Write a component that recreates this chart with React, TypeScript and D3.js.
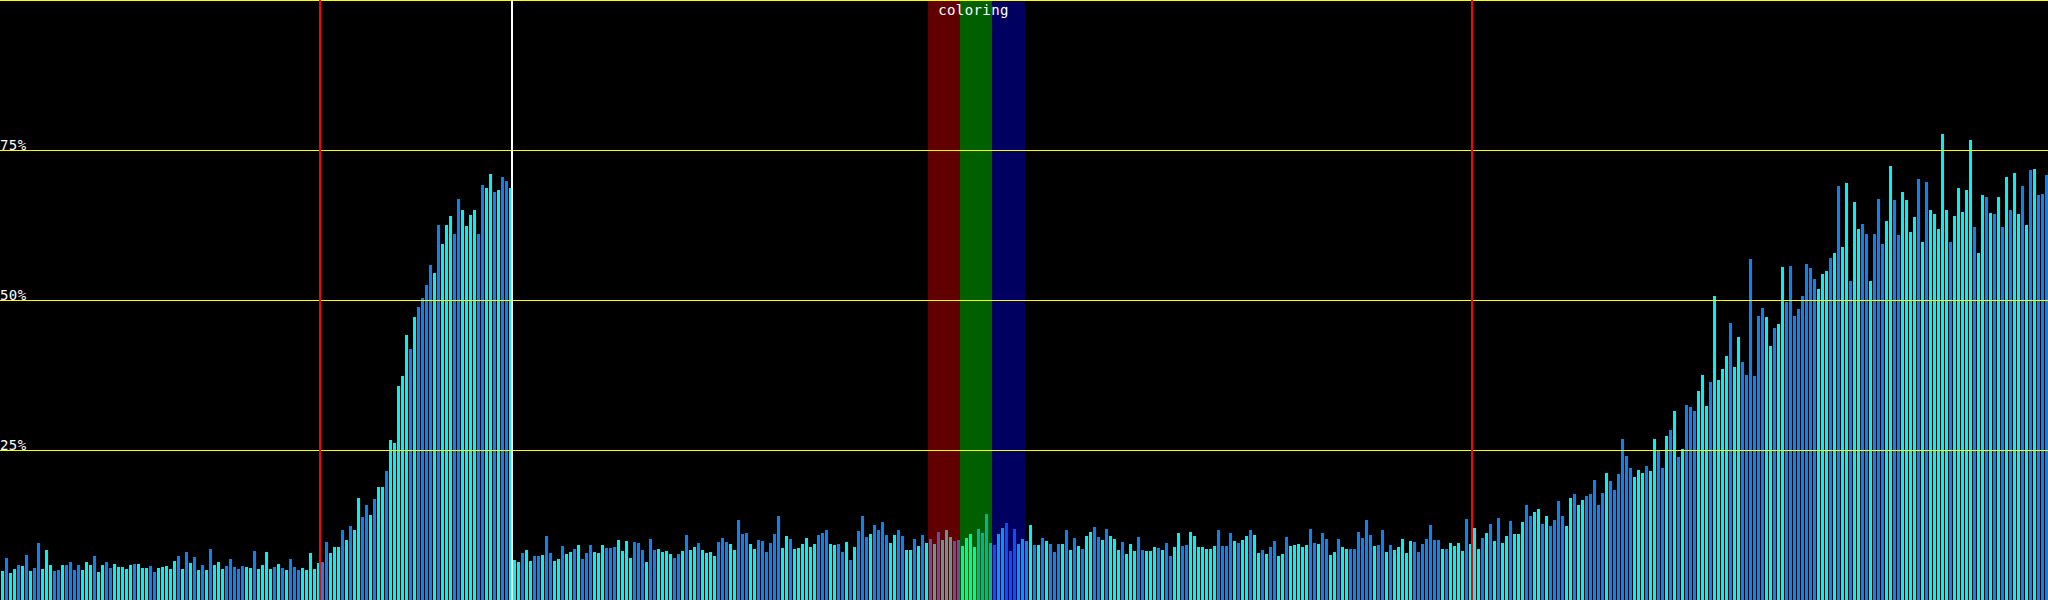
import * as d3 from "d3";

// bar heights in percent, one per 4px slot (512 slots)
const VALUES = [
  4.8, 7.0, 4.5, 5.2, 5.8, 5.7, 7.5, 4.8, 5.3, 9.5, 5.2, 8.3, 5.8, 4.8, 5.0, 5.8,
  5.8, 6.3, 5.0, 5.8, 5.0, 6.3, 5.8, 7.3, 4.7, 5.8, 6.3, 5.3, 6.0, 5.5, 5.5, 5.2,
  5.8, 6.0, 6.0, 5.3, 5.3, 5.7, 4.7, 5.3, 5.5, 5.7, 5.2, 6.5, 7.3, 5.2, 8.0, 6.2,
  7.2, 5.0, 5.8, 5.0, 8.5, 5.8, 6.3, 5.2, 5.7, 6.8, 5.5, 5.2, 5.7, 5.5, 5.3, 8.2,
  5.2, 5.8, 8.0, 5.2, 5.5, 6.0, 5.3, 5.0, 6.8, 5.5, 5.0, 5.3, 5.0, 7.8, 5.2, 6.2,
  6.3, 9.7, 7.8, 8.8, 8.8, 11.7, 10.0, 12.3, 11.7, 17.0, 13.8, 15.8, 14.2, 16.8, 18.8, 18.8,
  21.5, 26.7, 26.2, 35.7, 37.3, 44.2, 41.8, 47.2, 48.8, 50.3, 52.5, 55.8, 54.5, 62.5, 59.3, 62.5,
  64.0, 61.0, 66.8, 65.0, 62.3, 64.2, 65.0, 61.0, 69.2, 68.7, 71.0, 68.0, 68.3, 70.5, 69.8, 68.7,
  6.7, 6.3, 7.8, 8.3, 6.5, 7.3, 7.3, 7.5, 10.7, 7.8, 6.5, 6.8, 9.0, 7.7, 8.0, 8.5,
  9.2, 6.8, 7.8, 9.2, 8.0, 7.8, 9.2, 8.7, 8.7, 8.8, 10.0, 8.2, 9.8, 7.0, 9.7, 9.5,
  8.3, 6.3, 10.2, 8.3, 8.5, 8.0, 8.2, 7.7, 7.0, 7.7, 8.2, 10.8, 8.3, 8.8, 9.5, 8.3,
  7.8, 8.0, 7.3, 9.7, 10.3, 9.7, 9.3, 8.3, 13.3, 11.0, 11.2, 9.3, 8.5, 10.0, 9.8, 8.0,
  9.5, 11.0, 14.0, 8.7, 10.7, 10.2, 8.5, 8.7, 9.3, 10.3, 8.8, 9.3, 10.8, 11.2, 11.7, 9.3,
  9.2, 9.3, 8.0, 9.7, 6.7, 8.8, 11.5, 14.0, 10.5, 11.0, 12.5, 11.7, 13.0, 10.8, 9.5, 10.8,
  11.7, 10.7, 8.3, 8.3, 10.2, 9.0, 10.8, 9.5, 10.2, 9.3, 11.3, 10.0, 11.7, 10.5, 9.8, 10.0,
  9.0, 10.3, 11.0, 8.8, 11.8, 11.2, 14.3, 9.5, 9.2, 11.0, 12.0, 12.8, 8.2, 11.8, 9.3, 10.2,
  9.8, 12.5, 9.2, 9.2, 10.3, 9.8, 9.3, 8.0, 9.3, 9.3, 11.7, 8.3, 10.3, 9.0, 8.5, 10.7,
  11.3, 12.2, 10.5, 10.0, 11.8, 10.7, 10.2, 8.3, 9.7, 7.7, 9.3, 8.2, 10.5, 8.3, 8.2, 8.2,
  8.8, 8.7, 8.3, 9.5, 7.3, 8.8, 11.2, 9.0, 9.2, 11.3, 10.7, 8.8, 8.8, 8.5, 8.5, 9.0,
  11.7, 9.0, 9.0, 11.2, 9.8, 9.5, 10.0, 10.7, 11.7, 10.8, 7.8, 8.3, 7.7, 8.8, 9.8, 7.3,
  7.7, 10.5, 9.0, 9.2, 9.3, 8.8, 9.2, 11.8, 9.5, 9.3, 11.2, 10.2, 7.5, 8.0, 10.2, 8.8,
  8.5, 8.5, 8.5, 11.3, 10.3, 13.3, 10.8, 9.0, 9.2, 11.7, 8.0, 9.2, 8.3, 8.8, 10.2, 7.8,
  9.8, 9.7, 8.0, 9.3, 10.2, 12.5, 10.0, 10.0, 8.5, 8.5, 9.5, 9.0, 9.5, 8.2, 13.5, 9.3,
  12.0, 8.5, 10.3, 11.2, 12.7, 9.8, 13.7, 9.5, 10.7, 13.2, 11.0, 11.0, 13.0, 15.8, 14.0, 14.7,
  15.2, 12.7, 14.0, 12.3, 13.3, 16.5, 14.0, 12.3, 17.0, 17.7, 15.8, 16.7, 17.3, 17.7, 20.0, 15.8,
  17.8, 21.2, 19.8, 18.3, 21.0, 26.8, 24.0, 22.0, 20.5, 21.7, 21.2, 22.3, 21.5, 26.8, 24.8, 22.0,
  27.3, 28.3, 31.5, 23.8, 25.2, 32.5, 32.2, 31.5, 34.8, 37.5, 32.3, 36.3, 50.7, 36.7, 38.5, 40.7,
  46.2, 38.8, 43.8, 39.7, 37.5, 56.8, 37.3, 47.3, 48.7, 47.2, 42.3, 45.3, 46.0, 55.5, 49.7, 55.7,
  47.3, 48.5, 50.7, 56.0, 55.3, 53.5, 51.8, 54.3, 54.8, 57.0, 57.8, 69.0, 58.8, 69.5, 53.2, 66.3,
  61.8, 62.7, 61.0, 53.2, 61.0, 66.8, 59.3, 63.2, 72.3, 66.7, 60.8, 68.0, 66.7, 61.3, 63.8, 70.2,
  59.7, 69.7, 65.0, 64.3, 61.8, 77.7, 65.0, 59.7, 64.0, 68.7, 64.7, 68.3, 76.7, 62.2, 57.8, 67.5,
  67.2, 64.5, 64.3, 67.2, 62.2, 70.5, 65.0, 71.2, 64.3, 69.0, 62.5, 71.7, 71.8, 67.5, 67.7, 70.8,
];

// which colour each bar gets: c = cyan, b = blue
const SERIES = (
  "cbccbcbcbbcccbbc" + "bbbbcccbccbbcccc" + "cbcccbbcccccbcbc" + "bcbcbcccbbbbbccb" +
  "ccccbcbcbbbccccc" + "bbcccbcbccbbcbcc" + "bcccccbcbbbbcbcc" + "cbbccccbbccbcbbc" +
  "ccbccbbcbbccbccb" + "cbbbcccbbbccccbb" + "bcbbccccbbcbccbc" + "cccbbbccbbbccbbb" +
  "bbbccbccccccbbbc" + "cbbcbcbbbcbbbbcc" + "bbccbcbcbcbcccbb" + "ccccbbbbbccbbbcc" +
  "bcbcbcbbbcbcbcbc" + "cbbcbcccbcccbbcc" + "cbcbbccbbccccccc" + "bbbbcbccbccbcbbc" +
  "cbcccccbbcbbccbc" + "cbbbbbbcbbcbcccc" + "cbbbbbbbcbccccbc" + "ccbcbcbccbcccbbc" +
  "cbcbbbbccbccbbbb" + "bcbbbbbbcccbccbb" + "cbcbcbbbcccbcccc" + "bccbbbbbbccbccbb" +
  "bbbbbbcccbcbccbc" + "cbbcbbbccbbccccb" + "cbcccccbcccccbcc" + "bcbcbcbccbcbcbbb"
).split("");

const SERIES_COLORS: Record<string, string> = { c: "#00f2f2", b: "#0a84f0" };

const GRID_TICKS = [25, 50, 75, 100];
const TICK_LABELS = ["25%", "50%", "75%", ""];

// vertical markers, in bar-slot units
const MARKERS = [
  { at: 80, color: "#ff0000" },
  { at: 128, color: "#ffffff" },
  { at: 368, color: "#ff0000" },
];

// coloured bands, in bar-slot units
const BANDS = [
  { from: 232, to: 240, color: "#ff0000" },
  { from: 240, to: 248, color: "#00ff00" },
  { from: 248, to: 256.25, color: "#0000ff" },
];
const BAND_LABEL = "coloring";

const W = 2048;
const H = 600;

export default function App() {
  const idx = d3.range(VALUES.length);
  const x = d3
    .scaleBand<number>()
    .domain(idx)
    .range([0, W])
    .paddingInner(0.25)
    .paddingOuter(0.125)
    .align(1);
  const xEdge = d3.scaleLinear().domain([0, VALUES.length]).range([0, W]);
  const y = d3.scaleLinear().domain([0, 100]).range([H, 0]);

  const bandMid = (xEdge(BANDS[0].from) + xEdge(BANDS[BANDS.length - 1].to)) / 2 - 3;

  return (
    <div style={{ position: "fixed", left: 0, top: 0 }}>
      <svg width={W} height={H} style={{ display: "block" }}>
        <rect x={0} y={0} width={W} height={H} fill="#000" />
        <g shapeRendering="crispEdges">
          {idx.map((i) => (
            <rect
              key={i}
              x={x(i)}
              y={y(VALUES[i])}
              width={x.bandwidth()}
              height={H - y(VALUES[i])}
              fill={SERIES_COLORS[SERIES[i]]}
            />
          ))}
        </g>
        <g shapeRendering="crispEdges">
          {BANDS.map((b) => (
            <rect
              key={b.color}
              x={xEdge(b.from)}
              y={0}
              width={xEdge(b.to) - xEdge(b.from)}
              height={H}
              fill={b.color}
              fillOpacity={0.376}
            />
          ))}
        </g>
        <g shapeRendering="crispEdges">
          {GRID_TICKS.map((t) => (
            <line
              key={t}
              x1={0}
              x2={W}
              y1={y(t) + 0.5}
              y2={y(t) + 0.5}
              stroke="#ffff00"
              strokeWidth={1}
            />
          ))}
          {MARKERS.map((m) => (
            <line
              key={m.at}
              x1={xEdge(m.at)}
              x2={xEdge(m.at)}
              y1={0}
              y2={H}
              stroke={m.color}
              strokeWidth={2}
            />
          ))}
        </g>
        <g fontFamily="'DejaVu Sans Mono', monospace" fontSize={14} fill="#fff">
          {GRID_TICKS.map((t, k) =>
            TICK_LABELS[k] ? (
              <text key={t} x={0} y={y(t)} letterSpacing={0.4}>
                {TICK_LABELS[k]}
              </text>
            ) : null
          )}
          <text x={bandMid} y={15} textAnchor="middle" letterSpacing={0.4}>
            {BAND_LABEL}
          </text>
        </g>
      </svg>
    </div>
  );
}
